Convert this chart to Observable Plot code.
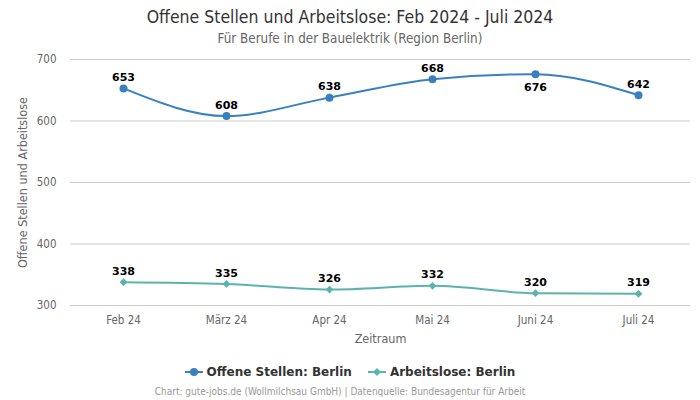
<!DOCTYPE html>
<html><head><meta charset="utf-8">
<script src="https://cdn.jsdelivr.net/npm/d3@7"></script>
<script src="https://cdn.jsdelivr.net/npm/@observablehq/plot@0.6"></script>
<style>
body{margin:0;background:#fff;font-family:"DejaVu Sans Condensed","DejaVu Sans",sans-serif;width:700px;height:400px;overflow:hidden;}
#title{position:absolute;top:6px;left:0;width:700px;text-align:center;font-size:17.5px;color:#333;line-height:22px;}
#sub{position:absolute;top:30px;left:0;width:700px;text-align:center;font-size:13.3px;color:#666;line-height:18px;}
#chart{position:absolute;top:48px;left:0;}
#legend{position:absolute;top:365px;left:0;width:700px;text-align:center;font-size:12px;font-weight:bold;color:#333;font-family:"DejaVu Sans",sans-serif;}
#legend span.item{margin:0 8px;display:inline-flex;align-items:center;}
#caption{position:absolute;top:386px;left:0;width:680px;text-align:center;font-size:10px;color:#999;}
</style></head>
<body>
<div id="title"></div>
<div id="sub"></div>
<div id="chart"></div>
<div id="legend"></div>
<div id="caption"></div>
<script>
const months = ["Feb 24","März 24","Apr 24","Mai 24","Juni 24","Juli 24"];
const offeneStellen = [653,608,638,668,676,642];
const arbeitslose = [338,335,326,332,320,319];
const offenLabelBelow = [false,false,false,false,true,false];
const seriesNames = ["Offene Stellen: Berlin","Arbeitslose: Berlin"];
const colors = ["#3a80be","#5bb3ad"];
const yTicks = [300,400,500,600,700];
const xTitle = "Zeitraum";
const yTitle = "Offene Stellen und Arbeitslose";

document.getElementById("title").textContent = "Offene Stellen und Arbeitslose: Feb 2024 - Juli 2024";
document.getElementById("sub").textContent = "Für Berufe in der Bauelektrik (Region Berlin)";
document.getElementById("caption").textContent = "Chart: gute-jobs.de (Wollmilchsau GmbH) | Datenquelle: Bundesagentur für Arbeit";

const dOff = months.map((m,i)=>({m, v:offeneStellen[i], below:offenLabelBelow[i]}));
const dArb = months.map((m,i)=>({m, v:arbeitslose[i]}));
const lbl = {fontWeight:"bold", fontSize:11, fill:"#000", fontFamily:"DejaVu Sans", text:d=>String(d.v), x:"m", y:"v"};

const chart = Plot.plot({
  width:700, height:300,
  marginLeft:70, marginRight:10, marginTop:11, marginBottom:43,
  style:{fontFamily:"'DejaVu Sans Condensed','DejaVu Sans',sans-serif", fontSize:"11.5px", color:"#666", background:"transparent", overflow:"visible"},
  x:{type:"point", domain:months, padding:0.5, label:null},
  y:{domain:[300,700], ticks:yTicks, label:null},
  marks:[
    Plot.gridY(yTicks,{stroke:"#ccc", strokeOpacity:1}),
    Plot.axisY({ticks:yTicks, tickSize:0, tickPadding:14, fontSize:11.5, fill:"#666", label:null}),
    Plot.axisX({tickSize:0, tickPadding:10, fontSize:11.5, fill:"#666", label:null}),
    Plot.text([yTitle],{frameAnchor:"left", textAnchor:"middle", rotate:-90, dx:-48, fontSize:12.5, fill:"#666", text:d=>d}),
    Plot.text([xTitle],{frameAnchor:"bottom", dy:37, fontSize:12.5, fill:"#666", text:d=>d}),
    Plot.line(dOff,{x:"m", y:"v", stroke:colors[0], strokeWidth:2, curve:"monotone-x"}),
    Plot.dot(dOff,{x:"m", y:"v", fill:colors[0], r:4}),
    Plot.line(dArb,{x:"m", y:"v", stroke:colors[1], strokeWidth:2, curve:"monotone-x"}),
    Plot.dot(dArb,{x:"m", y:"v", fill:colors[1], r:3.5, symbol:"diamond2"}),
    Plot.text(dOff.filter(d=>!d.below),{...lbl, dy:-11}),
    Plot.text(dOff.filter(d=>d.below),{...lbl, dy:13}),
    Plot.text(dArb,{...lbl, dy:-11})
  ]
});
document.getElementById("chart").appendChild(chart);

const leg = document.getElementById("legend");
seriesNames.forEach((n,i)=>{
  const s = document.createElement("span"); s.className="item";
  const marker = i===0
    ? `<svg width="18" height="10"><line x1="0" y1="5" x2="18" y2="5" stroke="${colors[i]}" stroke-width="2"/><circle cx="9" cy="5" r="4" fill="${colors[i]}"/></svg>`
    : `<svg width="18" height="10"><line x1="0" y1="5" x2="18" y2="5" stroke="${colors[i]}" stroke-width="2"/><path d="M9 1 L13 5 L9 9 L5 5Z" fill="${colors[i]}"/></svg>`;
  s.innerHTML = marker + `<span style="margin-left:4px">${n}</span>`;
  leg.appendChild(s);
});
</script>
</body></html>
